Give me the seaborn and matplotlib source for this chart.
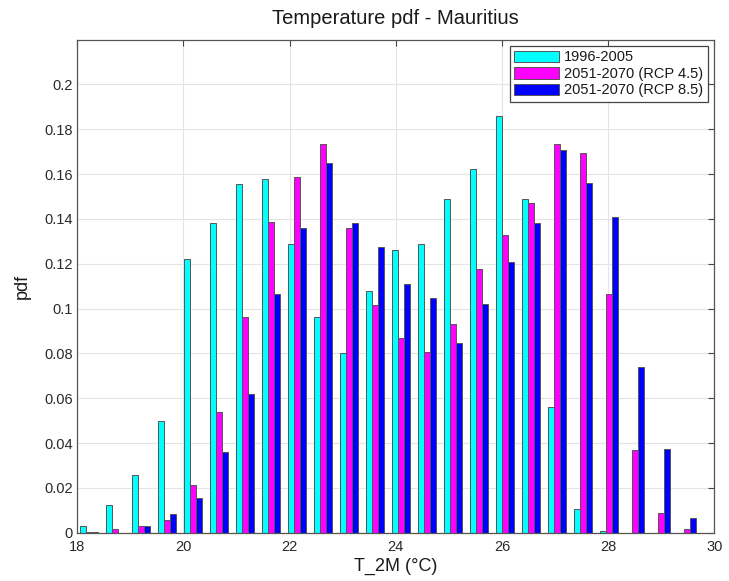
import matplotlib
matplotlib.use('Agg')
import matplotlib.pyplot as plt
import matplotlib.ticker as mticker
import pandas as pd
import seaborn as sns

# ==================================================
# Dados — pdf da temperatura (T_2M) em Mauritius
# ==================================================
temperaturas = [18.22, 18.71, 19.20, 19.69, 20.18, 20.67, 21.16, 21.65,
                22.14, 22.63, 23.12, 23.61, 24.10, 24.59, 25.08, 25.57,
                26.06, 26.55, 27.04, 27.53, 28.02, 28.51, 29.00, 29.49]

pdf_1996_2005 = [0.0028, 0.0123, 0.0258, 0.0497, 0.1219, 0.1382, 0.1555, 0.1578,
                 0.1287, 0.0961, 0.0800, 0.1077, 0.1261, 0.1289, 0.1489, 0.1622,
                 0.1858, 0.1489, 0.0560, 0.0107, 0.0007, 0.0, 0.0, 0.0]

pdf_rcp45 = [0.0005, 0.0016, 0.0031, 0.0059, 0.0215, 0.0539, 0.0961, 0.1384,
             0.1586, 0.1734, 0.1359, 0.1016, 0.0867, 0.0807, 0.0930, 0.1178,
             0.1329, 0.1470, 0.1736, 0.1695, 0.1067, 0.0369, 0.0086, 0.0015]

pdf_rcp85 = [0.0005, 0.0, 0.0031, 0.0084, 0.0153, 0.0359, 0.0619, 0.1065,
             0.1361, 0.1651, 0.1381, 0.1273, 0.1110, 0.1046, 0.0847, 0.1022,
             0.1206, 0.1381, 0.1705, 0.1561, 0.1407, 0.0741, 0.0372, 0.0067]

periodos = ['1996-2005', '2051-2070 (RCP 4.5)', '2051-2070 (RCP 8.5)']
cores = ['#00FFFF', '#FF00FF', '#0000FF']
yticks = [0, 0.02, 0.04, 0.06, 0.08, 0.1, 0.12, 0.14, 0.16, 0.18, 0.2]
xticks = [18, 20, 22, 24, 26, 28, 30]

df = pd.DataFrame({
    'T_2M': temperaturas * 3,
    'pdf': pdf_1996_2005 + pdf_rcp45 + pdf_rcp85,
    'periodo': [p for p in periodos for _ in temperaturas],
})

# ==================================================
# Figura
# ==================================================
sns.set_style('white')
plt.rcParams['font.family'] = ['Liberation Sans', 'DejaVu Sans']
plt.rcParams['text.color'] = '#1a1a1a'
plt.rcParams['axes.labelcolor'] = '#1a1a1a'
plt.rcParams['xtick.labelcolor'] = '#2a2a2a'
plt.rcParams['ytick.labelcolor'] = '#2a2a2a'

fig = plt.figure(figsize=(7.29, 5.81), dpi=100)
ax = fig.add_axes([0.106, 0.083, 0.874, 0.849])

sns.barplot(data=df, x='T_2M', y='pdf', hue='periodo', hue_order=periodos,
            palette=cores, native_scale=True, width=0.68, gap=0,
            edgecolor='#555555', linewidth=0.7, saturation=1, ax=ax)

ax.set_xlim(18, 30)
ax.set_ylim(0, 0.22)
ax.set_xticks(xticks)
ax.set_yticks(yticks)
ax.yaxis.set_major_formatter(mticker.FuncFormatter(lambda v, p: f'{v:g}'))
ax.tick_params(direction='in', top=True, right=True, length=4,
               labelsize=10.5, color='#444444')
ax.tick_params(axis='x', pad=5)
ax.tick_params(axis='y', pad=3)
ax.grid(True, color='#e4e4e4', linewidth=0.8)
ax.set_axisbelow(True)
for s in ax.spines.values():
    s.set_color('#555555')
    s.set_linewidth(0.9)

ax.set_title('Temperature pdf - Mauritius', fontsize=14.5, pad=11)
ax.set_xlabel('T_2M (°C)', fontsize=13, labelpad=3)
ax.set_ylabel('pdf', fontsize=13, labelpad=10)

sns.move_legend(ax, 'upper right', title=None, fontsize=10.5,
                frameon=True, fancybox=False, edgecolor='#444444',
                framealpha=1, handlelength=3.1, handleheight=0.85,
                labelspacing=0.17, borderaxespad=0.45, borderpad=0.3,
                handletextpad=0.35)
ax.get_legend().get_frame().set_linewidth(0.9)

fig.savefig('out.png', dpi=100)
